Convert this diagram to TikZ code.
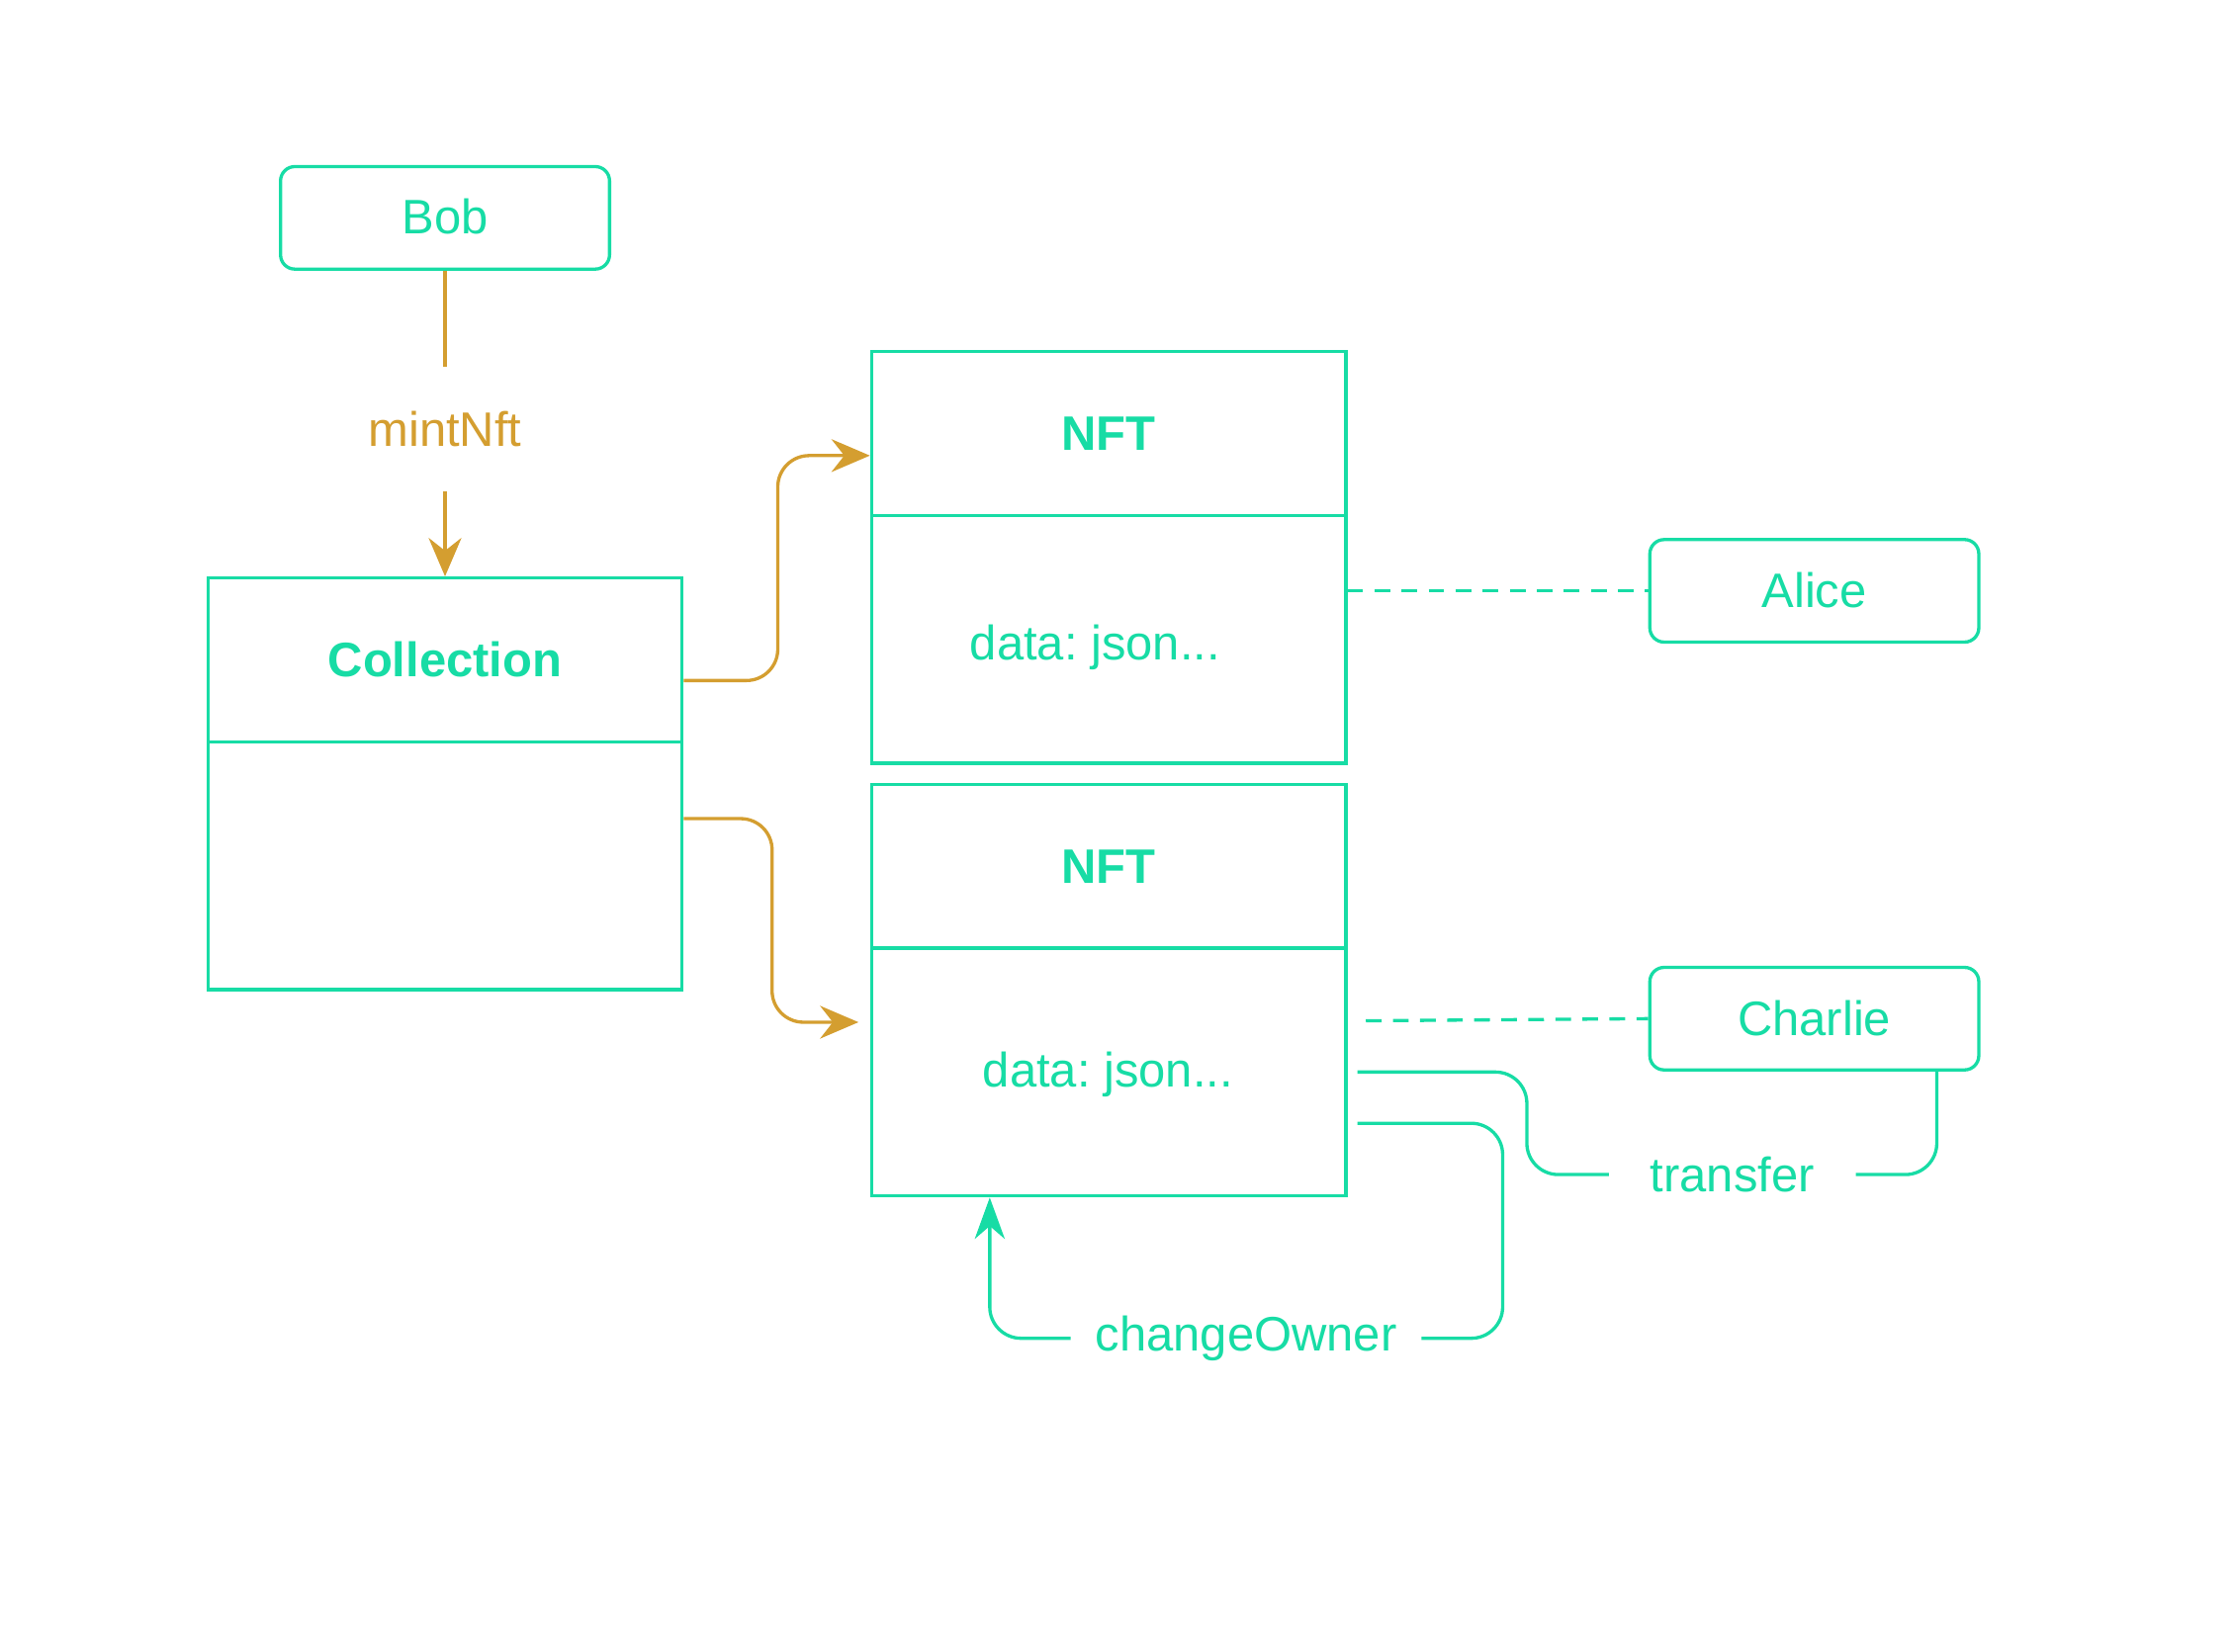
\documentclass[tikz,border=0pt]{standalone}
\usepackage{fontspec}
\setmainfont{Liberation Sans}
\usetikzlibrary{arrows.meta}
\definecolor{mygreen}{HTML}{17DCA5}
\definecolor{myorange}{HTML}{D49E30}
\frenchspacing
\begin{document}
\begin{tikzpicture}[x=1pt,y=1pt,
  txt/.style={font=\fontsize{34}{40}\selectfont},
  box/.style={draw=mygreen, line width=2.3pt, minimum width=333pt, inner sep=0pt, text=mygreen, txt},
  person/.style={draw=mygreen, line width=2.3pt, rounded corners=10pt, minimum width=231pt, minimum height=72pt, inner sep=0pt, text=mygreen, txt},
  lbl/.style={inner sep=0pt, txt},
  gline/.style={draw=mygreen, line width=2.3pt},
  oline/.style={draw=myorange, line width=2.3pt},
  otip/.style={-{Stealth[length=27pt,width=23pt,inset=9pt]}},
  gtip/.style={-{Stealth[length=29pt,width=21pt,inset=9pt]}},
  dashln/.style={draw=mygreen, line width=2.3pt, dash pattern=on 11pt off 8pt}
]
\useasboundingbox (0,0) rectangle (1568,-1160);

% actors
\node[person] (bob) at (312.5,-153) {\raisebox{2pt}{Bob}};
\node[person] (alice) at (1274,-415) {\raisebox{1pt}{Alice}};
\node[person] (charlie) at (1274,-715.5) {\raisebox{1pt}{Charlie}};

% collection
\node[box, minimum height=115pt, font=\fontsize{34}{40}\selectfont\bfseries] (collh) at (312.5,-463.5) {Collection};
\node[box, minimum height=174pt] (collb) at (312.5,-608) {};

% NFT 1
\node[box, minimum height=115pt, font=\fontsize{34}{40}\selectfont\bfseries] (nfth1) at (778.5,-304.5) {NFT};
\node[box, minimum height=174pt] (nftb1) at (778.5,-449) {};
\node[lbl, text=mygreen] (data1) at (769,-455) {data: json...};

% NFT 2
\node[box, minimum height=115pt, font=\fontsize{34}{40}\selectfont\bfseries] (nfth2) at (778.5,-608.5) {NFT};
\node[box, minimum height=174pt] (nftb2) at (778.5,-753) {};
\node[lbl, text=mygreen] (data2) at (778,-755) {data: json...};

% mintNft
\node[lbl, text=myorange, minimum height=87pt] (mint) at (312.5,-301.5) {mintNft};
\draw[oline] (bob.south) -- (mint.north);
\draw[oline, otip] (mint.south) -- (collh.north);

% collection -> NFTs
\draw[oline, otip, rounded corners=22pt] ([yshift=-14.5pt]collh.east) -- ++(66,0) |- ([yshift=-15.5pt]nfth1.west);
\draw[oline, otip, rounded corners=22pt, shorten >=8pt] ([yshift=33pt]collb.east) -- ++(62,0) |- ([yshift=35pt]nftb2.west);

% ownership (dashed)
\draw[dashln] ([yshift=34pt]nftb1.east) -- (alice.west);
\draw[dashln] ([xshift=13pt,yshift=36pt]nftb2.east) -- (charlie.west);

% transfer
\node[lbl, text=mygreen, minimum width=173pt] (transfer) at (1216.5,-825) {transfer};
\draw[gline, rounded corners=22pt] ([xshift=7pt]nftb2.east) -- ++(119,0) |- (transfer.west);
\draw[gline, rounded corners=22pt] (transfer.east) -| ([xshift=86pt]charlie.south);

% changeOwner
\node[lbl, text=mygreen, minimum width=246pt] (change) at (875,-940) {changeOwner};
\draw[gline, rounded corners=22pt] ([xshift=7pt,yshift=-36pt]nftb2.east) -- ++(102,0) |- (change.east);
\draw[gline, gtip, rounded corners=22pt] (change.west) -| ([xshift=-83.5pt]nftb2.south);
\end{tikzpicture}
\end{document}
